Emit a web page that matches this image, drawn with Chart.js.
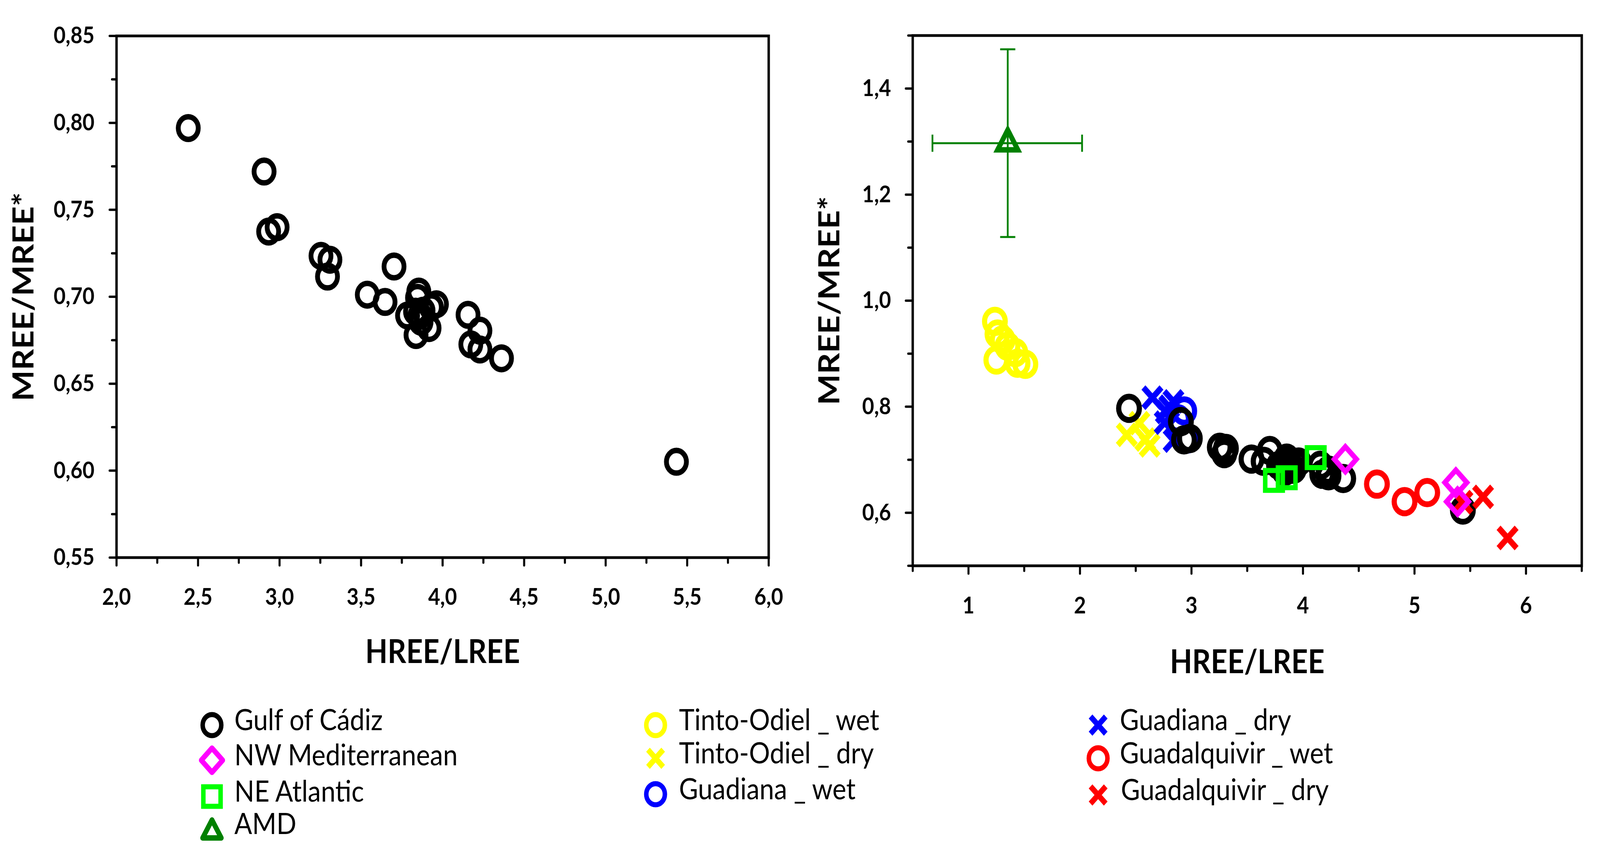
<!DOCTYPE html>
<html><head><meta charset="utf-8">
<script src="https://cdn.jsdelivr.net/npm/chart.js@4"></script>
<style>
html,body{margin:0;padding:0;background:#fff;overflow:hidden}
#wrap{position:absolute;left:0;top:0;width:4642px;height:2182px;transform-origin:0 0;background:#fff}
canvas{position:absolute}
#c1{left:0;top:0}
#c2{left:2330px;top:0}
#legend{position:absolute;left:0;top:1760px;pointer-events:none}
</style></head><body>
<div id="wrap">
<canvas id="c1" width="2330" height="1760" style="width:2330px;height:1760px"></canvas>
<canvas id="c2" width="2312" height="1800" style="width:2312px;height:1800px"></canvas>
<svg id="legend" width="4642" height="422" xmlns="http://www.w3.org/2000/svg"></svg>
</div>
<script>
// ---------------- DATA ----------------
const gulfX = [2.44, 2.905, 2.933, 2.985, 3.254, 3.309, 3.294, 3.538, 3.647, 3.702,
  3.854, 3.846, 3.962, 3.931, 3.785, 3.834, 3.861, 3.917, 3.837, 3.868, 3.88,
  4.156, 4.229, 4.173, 4.229, 4.361, 5.434];
const gulfY = [0.797, 0.772, 0.7375, 0.740, 0.7235, 0.7213, 0.7116, 0.7012, 0.697, 0.7174,
  0.703, 0.6994, 0.6957, 0.694, 0.6892, 0.6914, 0.6892, 0.682, 0.678, 0.6856, 0.692,
  0.6896, 0.6805, 0.6726, 0.6697, 0.6646, 0.6051];

const nwMedX = [4.38, 5.371, 5.386];
const nwMedY = [0.701, 0.657, 0.621];

const neAtlX = [3.74, 3.854, 4.114];
const neAtlY = [0.661, 0.666, 0.704];

const amdX = [1.352];
const amdY = [1.297];
const amdXLow = [0.677];
const amdXHigh = [2.019];
const amdYLow = [1.120];
const amdYHigh = [1.474];

const tintoWetX = [1.237, 1.26, 1.306, 1.35, 1.42, 1.25, 1.44, 1.51];
const tintoWetY = [0.961, 0.937, 0.926, 0.914, 0.902, 0.888, 0.882, 0.880];

const tintoDryX = [2.42, 2.533, 2.585, 2.625];
const tintoDryY = [0.747, 0.769, 0.738, 0.727];

const guadWetX = [2.935, 2.96, 2.88];
const guadWetY = [0.792, 0.739, 0.777];

const guadDryX = [2.65, 2.838, 2.77, 2.76, 2.84, 2.80];
const guadDryY = [0.817, 0.810, 0.790, 0.770, 0.736, 0.800];

const gqWetX = [4.663, 4.911, 5.114];
const gqWetY = [0.654, 0.621, 0.638];

const gqDryX = [5.43, 5.615, 5.835];
const gqDryY = [0.620, 0.630, 0.5525];

// tick values
const leftXMajor = [2.0, 2.5, 3.0, 3.5, 4.0, 4.5, 5.0, 5.5, 6.0];
const leftXMinor = [2.25, 2.75, 3.25, 3.75, 4.25, 4.75, 5.25, 5.75];
const leftYMajor = [0.55, 0.60, 0.65, 0.70, 0.75, 0.80, 0.85];
const leftYMinor = [0.575, 0.625, 0.675, 0.725, 0.775, 0.825];
const rightXMajor = [1, 2, 3, 4, 5, 6];
const rightXMinor = [0.5, 1.5, 2.5, 3.5, 4.5, 5.5, 6.5];
const rightYMajor = [0.6, 0.8, 1.0, 1.2, 1.4];
const rightYMinor = [0.5, 0.7, 0.9, 1.1, 1.3, 1.5];

const xTitle = 'HREE/LREE';
const yTitle = 'MREE/MREE*';

// ---------------- PAGE SCALE (fit the 4642x2182 design to the viewport) ----------------
const W = 4642, H = 2182;
const SX = (window.innerWidth || W) / W;
const SY = (window.innerHeight || H) / H;
document.getElementById('wrap').style.transform = `scale(${SX}, ${SY})`;
const DPR = (window.devicePixelRatio || 1) * Math.max(SX, SY);

// ---------------- HELPERS ----------------
const pts = (xs, ys) => xs.map((x, i) => ({x: x, y: ys[i]}));
const comma = (v, d) => Number(v).toFixed(d).replace('.', ',');
const FONT = 'Lato';

function ds(label, xs, ys, style, color, radius, bw, order) {
  return {
    label: label, data: pts(xs, ys), showLine: false, order: order,
    pointStyle: style, pointRadius: radius, pointHoverRadius: radius,
    pointBorderWidth: bw, pointHoverBorderWidth: bw,
    pointBorderColor: color, borderColor: color,
    pointBackgroundColor: 'rgba(0,0,0,0)', backgroundColor: 'rgba(0,0,0,0)',
    clip: false
  };
}

const decor = {
  id: 'decor',
  beforeDatasetsDraw(chart, args, o) {
    const ctx = chart.ctx, a = chart.chartArea;
    const xs = chart.scales.x, ys = chart.scales.y;
    ctx.save();
    if (o.err) {
      const e = o.err;
      ctx.strokeStyle = e.color; ctx.lineWidth = 5; ctx.lineCap = 'butt';
      for (let i = 0; i < e.x.length; i++) {
        const px = xs.getPixelForValue(e.x[i]), py = ys.getPixelForValue(e.y[i]);
        const x0 = xs.getPixelForValue(e.xl[i]), x1 = xs.getPixelForValue(e.xh[i]);
        const y0 = ys.getPixelForValue(e.yl[i]), y1 = ys.getPixelForValue(e.yh[i]);
        const c = 22;
        ctx.beginPath();
        ctx.moveTo(x0, py); ctx.lineTo(x1, py);
        ctx.moveTo(x0, py - c); ctx.lineTo(x0, py + c);
        ctx.moveTo(x1, py - c); ctx.lineTo(x1, py + c);
        ctx.moveTo(px, y0); ctx.lineTo(px, y1);
        ctx.moveTo(px - c, y0); ctx.lineTo(px + c, y0);
        ctx.moveTo(px - c, y1); ctx.lineTo(px + c, y1);
        ctx.stroke();
      }
    }
    ctx.strokeStyle = '#000'; ctx.lineWidth = 6; ctx.lineCap = 'round';
    ctx.beginPath();
    const tick = (vals, len, axis) => vals.forEach(v => {
      if (axis === 'x') {
        const p = xs.getPixelForValue(v);
        ctx.moveTo(p, a.bottom); ctx.lineTo(p, a.bottom + len);
      } else {
        const p = ys.getPixelForValue(v);
        ctx.moveTo(a.left, p); ctx.lineTo(a.left - len, p);
      }
    });
    tick(o.xMajor, 20, 'x'); tick(o.xMinor, 13, 'x');
    tick(o.yMajor, 20, 'y'); tick(o.yMinor, 13, 'y');
    ctx.stroke();
    ctx.lineWidth = 7; ctx.lineJoin = 'miter'; ctx.lineCap = 'butt';
    ctx.strokeRect(a.left, a.top, a.right - a.left, a.bottom - a.top);
    ctx.restore();
  }
};

function makeOptions(cfg) {
  return {
    responsive: false, animation: false, devicePixelRatio: DPR, events: [],
    layout: {padding: cfg.padding},
    plugins: {
      legend: {display: false}, tooltip: {enabled: false},
      decor: {xMajor: cfg.xMajor, xMinor: cfg.xMinor, yMajor: cfg.yMajor, yMinor: cfg.yMinor, err: cfg.err}
    },
    scales: {
      x: {
        type: 'linear', position: 'bottom', min: cfg.xMin, max: cfg.xMax,
        grid: {display: false}, border: {display: false},
        afterBuildTicks: s => { s.ticks = cfg.xMajor.map(v => ({value: v})); },
        afterFit: s => { s.height = cfg.xH; },
        ticks: {
          color: '#000', padding: cfg.xPad, maxRotation: 0, autoSkip: false,
          font: {family: FONT, weight: 'bold', size: 60},
          callback: v => cfg.xFmt(v)
        },
        title: {display: true, text: xTitle, color: '#000',
          font: {family: FONT, weight: 'bold', size: 84}, padding: {top: 0, bottom: cfg.xTitlePad}}
      },
      y: {
        type: 'linear', position: 'left', min: cfg.yMin, max: cfg.yMax,
        grid: {display: false}, border: {display: false},
        afterBuildTicks: s => { s.ticks = cfg.yMajor.map(v => ({value: v})); },
        afterFit: s => { s.width = cfg.yW; },
        ticks: {
          color: '#000', padding: cfg.yPad, autoSkip: false,
          font: {family: FONT, weight: 'bold', size: 60},
          callback: v => cfg.yFmt(v)
        },
        title: {display: true, text: yTitle, color: '#000',
          font: {family: FONT, weight: 'bold', size: 84}, padding: {top: cfg.yTitlePad, bottom: 0}}
      }
    }
  };
}

// ---------------- LEFT CHART ----------------
new Chart(document.getElementById('c1'), {
  type: 'scatter',
  data: {datasets: [ds('Gulf of Cádiz', gulfX, gulfY, 'circle', '#000000', 29, 14, 0)]},
  options: makeOptions({
    padding: {left: 0, top: 46, right: 68, bottom: 0},
    xMin: 2.0, xMax: 6.0, yMin: 0.55, yMax: 0.85,
    xMajor: leftXMajor, xMinor: leftXMinor, yMajor: leftYMajor, yMinor: leftYMinor,
    xH: 1760 - 1428, yW: 338, xPad: 58, yPad: 56,
    xTitlePad: 39, yTitlePad: 20,
    xFmt: v => comma(v, 1), yFmt: v => comma(v, 2)
  }),
  plugins: [decor]
});

// ---------------- RIGHT CHART ----------------
new Chart(document.getElementById('c2'), {
  type: 'scatter',
  data: {datasets: [
    ds('NW Mediterranean', nwMedX, nwMedY, 'rectRot', '#FF00FF', 32, 14, 0),
    ds('Guadalquivir _ dry', gqDryX, gqDryY, 'crossRot', '#FF0000', 37, 16, 1),
    ds('Guadalquivir _ wet', gqWetX, gqWetY, 'circle', '#FF0000', 30, 15, 2),
    ds('NE Atlantic', neAtlX, neAtlY, 'rect', '#00FF00', 36, 13, 3),
    ds('Gulf of Cádiz', gulfX, gulfY, 'circle', '#000000', 30, 15, 4),
    ds('Guadiana _ wet', guadWetX, guadWetY, 'circle', '#0000FF', 30, 15, 5),
    ds('Guadiana _ dry', guadDryX, guadDryY, 'crossRot', '#0000FF', 37, 16, 6),
    ds('Tinto-Odiel _ wet', tintoWetX, tintoWetY, 'circle', '#FFFF00', 30, 15, 7),
    ds('Tinto-Odiel _ dry', tintoDryX, tintoDryY, 'crossRot', '#FFFF00', 37, 16, 8),
    ds('AMD', amdX, amdY, 'triangle', '#008000', 34, 14, 9)
  ]},
  options: makeOptions({
    padding: {left: 0, top: 38, right: 30, bottom: 0},
    xMin: 0.5, xMax: 6.5, yMin: 0.5, yMax: 1.5,
    xMajor: rightXMajor, xMinor: rightXMinor, yMajor: rightYMajor, yMinor: rightYMinor,
    xH: 1800 - 1449, yW: 318, xPad: 59, yPad: 55,
    xTitlePad: 53, yTitlePad: 28,
    xFmt: v => String(v), yFmt: v => comma(v, 1),
    err: {x: amdX, y: amdY, xl: amdXLow, xh: amdXHigh, yl: amdYLow, yh: amdYHigh, color: '#008000'}
  }),
  plugins: [decor]
});

// ---------------- LEGEND (SVG, real text) ----------------
const legendItems = [
  {label: 'Gulf of Cádiz', shape: 'circle', color: '#000000', mx: 615, tx: 680, y: 1857},
  {label: 'NW Mediterranean', shape: 'diamond', color: '#FF00FF', mx: 615, tx: 680, y: 1947},
  {label: 'NE Atlantic', shape: 'square', color: '#00FF00', mx: 615, tx: 680, y: 2040},
  {label: 'AMD', shape: 'triangle', color: '#008000', mx: 615, tx: 680, y: 2123},
  {label: 'Tinto-Odiel _ wet', shape: 'circle', color: '#FFFF00', mx: 1902, tx: 1970, y: 1857},
  {label: 'Tinto-Odiel _ dry', shape: 'cross', color: '#FFFF00', mx: 1902, tx: 1970, y: 1942},
  {label: 'Guadiana _ wet', shape: 'circle', color: '#0000FF', mx: 1902, tx: 1970, y: 2034},
  {label: 'Guadiana _ dry', shape: 'cross', color: '#0000FF', mx: 3186, tx: 3249, y: 1857},
  {label: 'Guadalquivir _ wet', shape: 'circle', color: '#FF0000', mx: 3186, tx: 3249, y: 1942},
  {label: 'Guadalquivir _ dry', shape: 'cross', color: '#FF0000', mx: 3186, tx: 3252, y: 2036}
];
const svg = document.getElementById('legend');
const NS = 'http://www.w3.org/2000/svg';
const OFF = 1760;
function el(name, attrs) {
  const e = document.createElementNS(NS, name);
  for (const k in attrs) e.setAttribute(k, attrs[k]);
  svg.appendChild(e); return e;
}
legendItems.forEach(it => {
  const cx = it.mx, cy = it.y - OFF;
  const st = {fill: 'none', stroke: it.color};
  if (it.shape === 'circle') {
    el('circle', Object.assign({cx: cx, cy: cy, r: 27, 'stroke-width': 13}, st));
  } else if (it.shape === 'diamond') {
    el('polygon', Object.assign({points: `${cx},${cy-31} ${cx+31},${cy} ${cx},${cy+31} ${cx-31},${cy}`,
      'stroke-width': 14, 'stroke-linejoin': 'round'}, st));
  } else if (it.shape === 'square') {
    el('rect', Object.assign({x: cx - 25, y: cy - 25, width: 50, height: 50, 'stroke-width': 13}, st));
  } else if (it.shape === 'triangle') {
    el('polygon', Object.assign({points: `${cx},${cy-23} ${cx+27},${cy+23} ${cx-27},${cy+23}`,
      'stroke-width': 14, 'stroke-linejoin': 'round'}, st));
  } else if (it.shape === 'cross') {
    el('path', Object.assign({d: `M${cx-22},${cy-22}L${cx+22},${cy+22}M${cx+22},${cy-22}L${cx-22},${cy+22}`,
      'stroke-width': 15}, st));
  }
  const t = el('text', {x: it.tx, y: cy + 13, 'font-family': 'Lato', 'font-size': 76, fill: '#000'});
  t.textContent = it.label;
});
</script>
</body></html>
